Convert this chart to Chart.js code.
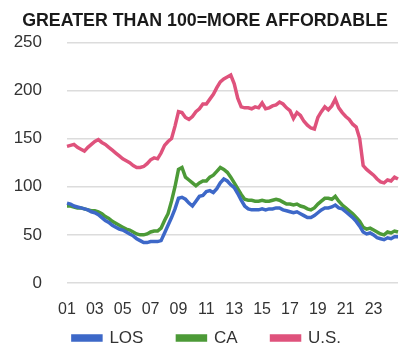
<!DOCTYPE html>
<html>
<head>
<meta charset="utf-8">
<script src="https://cdn.jsdelivr.net/npm/chart.js@4.4.0/dist/chart.umd.min.js"></script>
<style>
  html, body { margin: 0; padding: 0; background: #fff; }
  #wrap { width: 404px; height: 350px; }
</style>
</head>
<body>
<div id="wrap"><canvas id="chart"></canvas></div>
<script>
// quarterly, 2001 Q1 .. 2024 Q4
const years = [];
for (let y = 2001; y <= 2024; y++) {
  for (let q = 1; q <= 4; q++) years.push(y + ' Q' + q);
}

const los = [
  83, 82, 80, 79,   78, 77, 76, 74,   73, 71, 68, 65,   63, 60, 58, 56,
  55, 53, 51, 49,   46, 44, 42, 42,   43, 43, 43, 44,   52, 60, 68, 77,
  88, 89, 87, 83,   80, 85, 90, 91,   95, 96, 94, 98,   104, 108, 106, 102,
  99, 93, 86, 80,   77, 76, 76, 76,   77, 76, 77, 77,   78, 78, 76, 75,
  74, 73, 74, 72,   70, 68, 68, 70,   73, 76, 78, 78,   79, 81, 78, 77,
  74, 71, 68, 64,   59, 53, 51, 52,   50, 47, 46, 45,   47, 46, 48, 48
];

const ca = [
  80, 80, 79, 78,   78, 77, 76, 75,   75, 74, 72, 69,   67, 64, 62, 60,
  58, 56, 55, 53,   51, 50, 50, 51,   53, 54, 54, 57,   65, 72, 85, 100,
  118, 120, 110, 107,   104, 101, 104, 106,   106, 110, 112, 116,   120, 118, 115, 110,
  104, 98, 92, 87,   86, 86, 85, 85,   86, 85, 85, 86,   87, 86, 84, 82,
  82, 81, 82, 80,   79, 77, 76, 78,   82, 85, 88, 88,   87, 90, 85, 81,
  78, 75, 72, 68,   64, 58, 56, 57,   55, 53, 51, 50,   53, 52, 54, 53
];

const us = [
  142, 143, 144, 141,   139, 137, 141, 144,   147, 149, 146, 144,   141, 138, 135, 132,
  129, 127, 125, 122,   120, 120, 121, 124,   128, 130, 129, 135,   143, 147, 150, 163,
  178, 177, 172, 170,   173, 178, 181, 186,   186, 191, 196, 203,   209, 212, 214, 216,
  207, 192, 183, 182,   182, 181, 183, 182,   187, 181, 182, 184,   185, 188, 186, 182,
  179, 171, 177, 174,   168, 164, 161, 160,   172, 178, 183, 180,   184, 191, 182, 177,
  173, 170, 165, 162,   150, 122, 118, 115,   112, 108, 105, 104,   107, 106, 110, 108
];

const yTicks = [0, 50, 100, 150, 200, 250];

const font = 'Liberation Sans, Arial, Helvetica, sans-serif';

// legend padding is both the gap between items and the row height,
// so move the legend box up after layout instead of squeezing it
const nudge = {
  id: 'nudge',
  afterLayout(chart) {
    const lg = chart.legend;
    lg.top -= 23.5; lg.bottom -= 23.5;
    lg.left += 8; lg.right += 8;
    const t = chart.titleBlock;
    t.left += 6; t.right += 6;
  }
};

const ctx = document.getElementById('chart').getContext('2d');
new Chart(ctx, {
  type: 'line',
  data: {
    labels: years,
    datasets: [
      { label: 'LOS', data: los, borderColor: '#3d68c8', backgroundColor: '#3d68c8' },
      { label: 'CA', data: ca, borderColor: '#4c9a37', backgroundColor: '#4c9a37' },
      { label: 'U.S.', data: us, borderColor: '#df527c', backgroundColor: '#df527c' }
    ]
  },
  plugins: [nudge],
  options: {
    responsive: true,
    maintainAspectRatio: false,
    animation: false,
    elements: {
      line: { borderWidth: 3.5, tension: 0 },
      point: { radius: 0 }
    },
    layout: { padding: { left: 0, right: 6, top: 0, bottom: -30 } },
    plugins: {
      title: {
        display: true,
        text: 'GREATER THAN 100=MORE AFFORDABLE',
        color: '#1a1a1a',
        font: { family: font, size: 17.8, weight: 'bold' },
        padding: { top: 10, bottom: 11 }
      },
      legend: {
        position: 'bottom',
        labels: {
          color: '#333',
          font: { family: font, size: 17 },
          boxWidth: 28,
          boxHeight: 4,
          padding: 34
        }
      },
      tooltip: { enabled: false }
    },
    scales: {
      x: {
        offset: false,
        afterFit: function (axis) {
          axis.height = 36;
          axis.paddingLeft = 0;
          axis.paddingRight = 0;
        },
        grid: { display: false, drawTicks: false },
        border: { display: false },
        ticks: {
          autoSkip: false,
          maxRotation: 0,
          color: '#333',
          font: { family: font, size: 16 },
          padding: 17,
          callback: function (v, i) {
            const lab = years[i];
            const y = parseInt(lab, 10);
            if (lab.endsWith('Q1') && y % 2 === 1) return String(y).slice(2);
            return '';
          }
        }
      },
      y: {
        min: 0,
        max: 250,
        afterBuildTicks: function (axis) {
          axis.ticks = yTicks.map(v => ({ value: v }));
        },
        afterFit: function (axis) { axis.width = 67; },
        grid: { color: '#dcdcdc', lineWidth: 1.5, drawTicks: false },
        border: { display: false },
        ticks: {
          color: '#333',
          font: { family: font, size: 17 },
          padding: 25
        }
      }
    }
  }
});
</script>
</body>
</html>
